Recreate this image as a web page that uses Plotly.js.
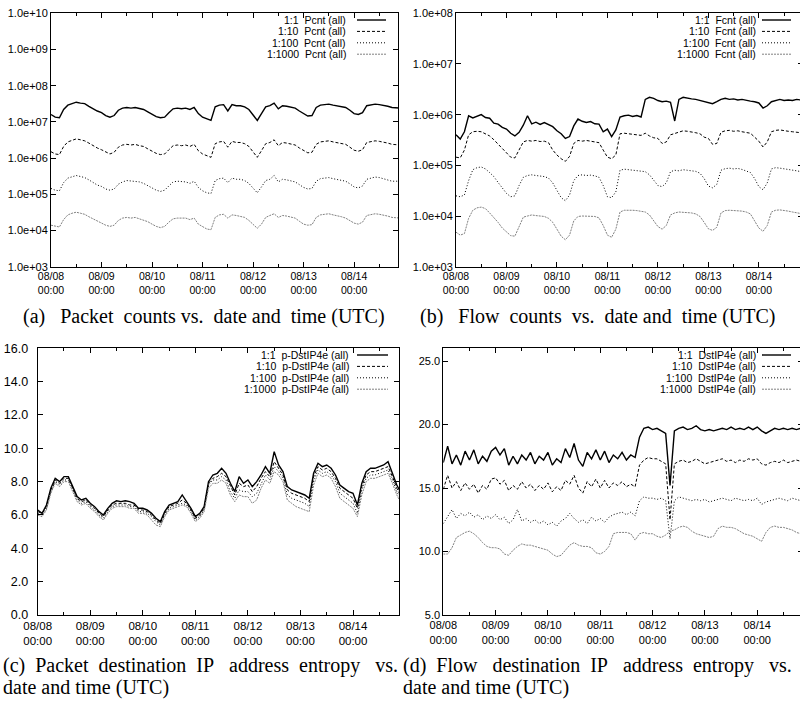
<!DOCTYPE html>
<html><head><meta charset="utf-8">
<script src="https://cdn.plot.ly/plotly-3.0.1.min.js"></script>
<style>html,body{margin:0;padding:0;overflow:hidden;background:#fff}#chart{width:803px;height:704px}</style>
</head><body><div id="chart"></div>
<script>
// ---------- time grid: 2-hour samples starting 08/08 00:00 UTC ----------
const START_MS = Date.UTC(2008, 7, 8, 0, 0);
const STEP_HOURS = 2;
const N_SAMPLES = 84;
const times = [];
for (let i = 0; i < N_SAMPLES; i++) times.push(START_MS + i * STEP_HOURS * 3600000);

const dayTickVals = ['2008-08-08','2008-08-09','2008-08-10','2008-08-11','2008-08-12','2008-08-13','2008-08-14'];
const dayTickText = ['08/08<br>00:00','08/09<br>00:00','08/10<br>00:00','08/11<br>00:00','08/12<br>00:00','08/13<br>00:00','08/14<br>00:00'];
const xRange = ['2008-08-08 00:00', '2008-08-14 21:00'];

const logTickValsA = [1e3,1e4,1e5,1e6,1e7,1e8,1e9,1e10];
const logTickTextA = ['1.0e+03','1.0e+04','1.0e+05','1.0e+06','1.0e+07','1.0e+08','1.0e+09','1.0e+10'];
const logTickValsB = [1e3,1e4,1e5,1e6,1e7,1e8];
const logTickTextB = ['1.0e+03','1.0e+04','1.0e+05','1.0e+06','1.0e+07','1.0e+08'];
const linTickValsC = [0,2,4,6,8,10,12,14,16];
const linTickTextC = ['0.0','2.0','4.0','6.0','8.0','10.0','12.0','14.0','16.0'];
const linTickValsD = [5,10,15,20,25];
const linTickTextD = ['5.0','10.0','15.0','20.0','25.0'];

// ---------- (a) packet counts ----------
const pcnt_1 = [
 1.6e7,1.35e7,1.3e7,2.2e7,2.9e7,3.2e7,3.5e7,3.3e7,3.2e7,2.7e7,2.3e7,2.0e7,
 1.8e7,1.5e7,1.35e7,1.5e7,2.1e7,2.4e7,2.5e7,2.4e7,2.5e7,2.3e7,2.2e7,1.9e7,
 1.6e7,1.4e7,1.3e7,1.35e7,1.8e7,2.3e7,2.4e7,2.3e7,2.4e7,2.2e7,2.5e7,1.7e7,
 1.35e7,1.2e7,1.1e7,2.6e7,2.9e7,3.0e7,2.0e7,3.0e7,2.8e7,2.8e7,2.6e7,2.2e7,
 1.6e7,1.1e7,1.7e7,2.6e7,2.8e7,3.3e7,2.3e7,2.8e7,2.7e7,2.6e7,2.4e7,2.0e7,
 1.7e7,1.45e7,1.5e7,2.5e7,2.9e7,3.0e7,3.1e7,2.9e7,2.8e7,2.6e7,2.5e7,2.1e7,
 1.7e7,1.6e7,1.8e7,2.8e7,3.0e7,3.1e7,3.0e7,2.9e7,2.7e7,2.5e7,2.4e7,2.4e7];
const pcnt_10 = [
 1.5e6,1.3e6,1.25e6,2.1e6,2.8e6,3.1e6,3.4e6,3.2e6,3.0e6,2.6e6,2.2e6,1.9e6,
 1.7e6,1.45e6,1.3e6,1.45e6,2.0e6,2.3e6,2.4e6,2.3e6,2.4e6,2.2e6,2.1e6,1.8e6,
 1.55e6,1.35e6,1.25e6,1.3e6,1.7e6,2.2e6,2.3e6,2.2e6,2.3e6,2.1e6,2.4e6,1.6e6,
 1.3e6,1.15e6,1.05e6,2.5e6,2.8e6,2.9e6,2.0e6,2.9e6,2.7e6,2.7e6,2.5e6,2.1e6,
 1.5e6,1.05e6,1.6e6,2.5e6,2.7e6,3.2e6,2.2e6,2.7e6,2.6e6,2.5e6,2.3e6,1.9e6,
 1.6e6,1.4e6,1.45e6,2.4e6,2.8e6,2.9e6,3.0e6,2.8e6,2.7e6,2.5e6,2.4e6,2.0e6,
 1.65e6,1.55e6,1.7e6,2.7e6,2.9e6,3.0e6,2.9e6,2.8e6,2.6e6,2.4e6,2.3e6,2.3e6];
const pcnt_100 = [
 1.45e5,1.3e5,1.25e5,2.1e5,2.8e5,3.0e5,3.3e5,3.1e5,2.9e5,2.5e5,2.1e5,1.8e5,
 1.65e5,1.4e5,1.3e5,1.4e5,1.9e5,2.2e5,2.4e5,2.3e5,2.3e5,2.2e5,2.0e5,1.75e5,
 1.5e5,1.3e5,1.2e5,1.3e5,1.7e5,2.2e5,2.3e5,2.2e5,2.2e5,2.0e5,2.3e5,1.55e5,
 1.25e5,1.1e5,1.05e5,2.4e5,2.7e5,2.8e5,2.1e5,2.8e5,2.6e5,2.6e5,2.4e5,2.0e5,
 1.45e5,1.1e5,1.6e5,2.4e5,2.6e5,3.3e5,2.2e5,2.6e5,2.5e5,2.4e5,2.2e5,1.85e5,
 1.55e5,1.4e5,1.45e5,2.3e5,2.7e5,2.8e5,2.9e5,2.7e5,2.6e5,2.4e5,2.3e5,1.95e5,
 1.6e5,1.5e5,1.7e5,2.6e5,2.8e5,3.0e5,2.9e5,2.7e5,2.5e5,2.3e5,2.3e5,2.3e5];
const pcnt_1000 = [
 1.4e4,1.3e4,1.25e4,2.0e4,2.7e4,3.0e4,3.2e4,3.0e4,2.8e4,2.4e4,2.1e4,1.8e4,
 1.6e4,1.4e4,1.3e4,1.4e4,1.9e4,2.2e4,2.3e4,2.2e4,2.3e4,2.1e4,2.0e4,1.75e4,
 1.5e4,1.3e4,1.2e4,1.3e4,1.7e4,2.1e4,2.2e4,2.2e4,2.2e4,2.0e4,2.2e4,1.5e4,
 1.25e4,1.1e4,1.05e4,2.3e4,2.7e4,2.8e4,2.2e4,2.7e4,2.6e4,2.5e4,2.3e4,1.9e4,
 1.45e4,1.15e4,1.5e4,2.3e4,2.6e4,2.9e4,2.3e4,2.6e4,2.5e4,2.4e4,2.2e4,1.8e4,
 1.5e4,1.4e4,1.45e4,2.3e4,2.7e4,2.8e4,2.9e4,2.7e4,2.6e4,2.4e4,2.2e4,1.9e4,
 1.6e4,1.5e4,1.7e4,2.6e4,2.8e4,2.9e4,2.8e4,2.7e4,2.5e4,2.3e4,2.2e4,2.2e4];

// ---------- (b) flow counts ----------
const fcnt_1 = [
 4.0e5,3.3e5,4.6e5,9.5e5,8.6e5,9.2e5,1.0e6,8.8e5,8.5e5,6.8e5,6.5e5,5.6e5,
 5.2e5,4.3e5,3.8e5,4.5e5,6.2e5,9.5e5,6.6e5,7.1e5,6.4e5,7.0e5,6.3e5,5.8e5,
 4.8e5,4.2e5,3.4e5,3.7e5,6.0e5,8.2e5,7.4e5,7.0e5,7.3e5,6.6e5,6.5e5,4.6e5,
 5.2e5,3.7e5,5.0e5,9.0e5,9.5e5,9.8e5,9.2e5,9.6e5,9.0e5,2.0e6,2.2e6,2.1e6,
 1.9e6,1.8e6,1.85e6,1.75e6,7.5e5,2.0e6,2.2e6,2.1e6,2.05e6,2.0e6,1.9e6,1.85e6,
 1.75e6,1.65e6,1.8e6,2.0e6,2.1e6,2.0e6,2.05e6,1.95e6,2.0e6,1.9e6,1.85e6,1.8e6,
 1.7e6,1.35e6,1.5e6,1.8e6,1.9e6,2.0e6,1.9e6,1.95e6,1.9e6,2.0e6,1.95e6,1.95e6];
const fcnt_10 = [
 1.45e5,1.4e5,2.0e5,4.0e5,4.6e5,4.7e5,4.6e5,4.2e5,3.8e5,3.2e5,2.6e5,2.1e5,
 1.7e5,1.45e5,1.4e5,2.0e5,2.9e5,3.1e5,3.0e5,3.1e5,2.95e5,3.0e5,2.8e5,2.0e5,
 1.6e5,1.35e5,1.2e5,1.5e5,2.7e5,3.1e5,3.0e5,3.1e5,3.0e5,2.95e5,2.8e5,2.0e5,
 1.45e5,1.35e5,1.6e5,4.2e5,4.3e5,4.2e5,4.1e5,4.0e5,3.9e5,4.3e5,3.8e5,3.5e5,
 3.4e5,2.7e5,2.9e5,4.0e5,4.3e5,4.6e5,4.8e5,4.7e5,4.6e5,4.4e5,4.2e5,3.6e5,
 3.4e5,2.6e5,2.7e5,4.5e5,4.8e5,4.9e5,4.7e5,4.8e5,4.6e5,4.5e5,4.3e5,3.6e5,
 3.0e5,2.3e5,2.9e5,4.6e5,4.9e5,5.0e5,4.8e5,4.7e5,4.6e5,4.5e5,4.3e5,4.3e5];
const fcnt_100 = [
 2.5e4,2.4e4,2.6e4,5.0e4,8.2e4,9.0e4,9.3e4,8.5e4,7.2e4,6.0e4,4.6e4,3.5e4,
 2.8e4,2.4e4,2.5e4,4.0e4,5.8e4,6.3e4,6.5e4,6.3e4,6.2e4,6.0e4,5.6e4,4.5e4,
 3.2e4,2.3e4,2.0e4,2.6e4,5.0e4,6.3e4,6.5e4,6.3e4,6.4e4,6.2e4,5.8e4,4.0e4,
 2.4e4,2.3e4,3.0e4,8.0e4,8.4e4,8.2e4,8.0e4,7.8e4,7.6e4,7.5e4,6.5e4,5.2e4,
 4.0e4,3.8e4,4.5e4,7.5e4,8.0e4,7.8e4,8.2e4,8.0e4,7.9e4,7.6e4,7.0e4,5.5e4,
 3.9e4,3.6e4,4.2e4,8.0e4,8.6e4,8.8e4,8.5e4,8.7e4,8.3e4,7.8e4,7.2e4,5.5e4,
 3.8e4,3.3e4,4.5e4,8.5e4,9.0e4,8.8e4,8.6e4,8.4e4,8.0e4,7.8e4,7.5e4,7.3e4];
const fcnt_1000 = [
 4.8e3,4.2e3,4.5e3,9.0e3,1.3e4,1.45e4,1.5e4,1.4e4,1.15e4,9.5e3,7.5e3,5.8e3,
 4.8e3,4.1e3,4.0e3,6.0e3,9.5e3,1.0e4,1.05e4,1.02e4,1.0e4,9.8e3,9.0e3,7.5e3,
 5.5e3,4.0e3,3.4e3,4.2e3,8.0e3,9.8e3,1.0e4,1.0e4,9.9e3,9.8e3,9.2e3,6.5e3,
 4.2e3,3.8e3,5.5e3,1.2e4,1.3e4,1.32e4,1.3e4,1.28e4,1.25e4,1.2e4,1.05e4,8.0e3,
 6.2e3,5.5e3,6.5e3,1.05e4,1.15e4,1.2e4,1.18e4,1.2e4,1.15e4,1.1e4,9.8e3,7.5e3,
 5.6e3,5.2e3,6.0e3,1.15e4,1.28e4,1.3e4,1.28e4,1.3e4,1.25e4,1.2e4,1.1e4,8.0e3,
 5.8e3,5.0e3,6.5e3,1.2e4,1.3e4,1.32e4,1.3e4,1.25e4,1.2e4,1.15e4,1.1e4,1.08e4];

// ---------- (c) packet destination IP entropy ----------
const pent_1 = [
 6.3,6.1,6.6,7.6,8.2,8.0,8.3,8.3,7.7,7.1,6.9,7.0,
 6.7,6.5,6.2,6.0,6.4,6.7,6.85,6.8,6.85,6.8,6.7,6.4,
 6.4,6.3,6.1,5.8,5.6,6.2,6.6,6.7,6.8,7.2,6.8,6.4,
 5.9,6.1,6.5,8.0,8.4,8.5,8.8,8.5,7.9,7.4,8.3,7.9,
 8.1,7.7,8.0,8.4,8.9,8.5,9.8,9.0,8.6,7.7,7.5,7.4,
 7.3,7.2,7.0,8.5,9.1,8.9,9.0,8.8,8.4,7.8,7.6,7.4,
 7.3,6.6,7.9,8.6,8.8,8.8,8.9,9.0,9.2,8.5,7.8,7.3];
const pent_10 = [
 6.2,6.1,6.5,7.5,8.1,7.9,8.2,8.2,7.6,7.0,6.8,6.9,
 6.6,6.4,6.1,5.9,6.3,6.6,6.7,6.7,6.7,6.6,6.6,6.3,
 6.3,6.2,6.0,5.7,5.5,6.1,6.5,6.6,6.7,6.9,6.7,6.3,
 5.8,6.0,6.4,7.9,8.2,8.3,8.5,8.3,7.7,7.2,7.9,7.7,
 7.8,7.4,7.7,8.2,8.6,8.3,9.2,8.8,8.4,7.5,7.3,7.2,
 7.1,7.0,6.8,8.3,8.9,8.7,8.8,8.6,8.2,7.6,7.4,7.2,
 7.0,6.4,7.7,8.4,8.6,8.6,8.7,8.8,8.9,8.3,7.6,7.1];
const pent_100 = [
 6.1,6.0,6.4,7.4,8.0,7.8,8.1,8.1,7.5,6.9,6.7,6.8,
 6.5,6.3,6.0,5.8,6.2,6.5,6.6,6.6,6.6,6.5,6.5,6.2,
 6.2,6.1,5.9,5.6,5.4,6.0,6.4,6.5,6.6,6.7,6.6,6.2,
 5.7,5.9,6.3,7.8,8.1,8.1,8.3,8.1,7.4,7.0,7.5,7.4,
 7.4,7.1,7.3,7.9,8.4,8.1,8.9,8.6,8.2,7.2,7.0,6.9,
 6.8,6.7,6.5,8.1,8.7,8.5,8.6,8.4,8.0,7.3,7.1,6.9,
 6.7,6.1,7.5,8.2,8.4,8.4,8.5,8.6,8.7,8.1,7.4,6.9];
const pent_1000 = [
 6.0,5.9,6.3,7.3,7.9,7.7,8.0,8.0,7.4,6.8,6.6,6.7,
 6.4,6.2,5.9,5.7,6.1,6.4,6.5,6.5,6.5,6.4,6.4,6.1,
 6.1,6.0,5.7,5.4,5.3,5.9,6.3,6.4,6.5,6.6,6.5,6.1,
 5.6,5.8,6.2,7.6,7.9,7.9,8.1,7.9,7.2,6.8,7.2,7.1,
 7.1,6.7,6.9,7.6,8.1,7.9,8.6,8.4,8.0,6.9,6.7,6.5,
 6.4,6.3,6.2,7.8,8.5,8.3,8.4,8.2,7.7,7.0,6.8,6.6,
 6.4,5.9,7.2,8.0,8.2,8.2,8.3,8.4,8.5,7.9,7.2,6.7];

// ---------- (d) flow destination IP entropy ----------
const fent_1 = [
 17.0,18.3,16.9,17.6,16.8,17.9,17.2,18.0,16.9,17.5,17.1,17.9,
 18.2,17.6,18.1,16.8,17.5,16.9,17.6,17.2,17.8,16.9,17.5,17.2,
 17.8,16.8,17.3,17.0,18.1,17.4,18.5,17.2,16.7,17.8,17.3,18.0,
 17.2,17.9,17.0,17.6,17.3,17.8,17.2,17.6,17.4,19.0,19.7,19.8,
 19.6,19.7,19.5,19.3,15.2,19.5,19.7,19.8,19.6,19.7,19.9,19.6,
 19.5,19.6,19.5,19.6,19.7,19.6,19.8,19.6,19.7,19.6,19.8,19.6,
 19.8,19.5,19.3,19.5,19.7,19.6,19.7,19.6,19.7,19.6,19.7,19.7];
const fent_10 = [
 14.9,16.0,15.0,15.5,14.8,15.4,14.9,15.3,14.6,15.2,14.9,15.7,
 15.8,15.3,15.6,14.8,15.2,14.9,15.5,15.0,15.3,14.8,15.2,14.9,
 15.4,14.7,15.1,14.8,15.6,15.3,16.0,15.0,14.6,15.5,15.1,15.7,
 15.0,15.6,15.0,15.4,15.2,15.5,15.1,15.3,15.1,16.8,17.2,17.4,
 17.3,17.3,17.1,16.9,12.5,16.9,17.1,17.2,17.0,17.1,17.3,17.1,
 16.9,17.0,17.1,17.2,17.3,17.1,17.2,17.0,17.2,17.1,17.3,17.2,
 17.3,16.9,16.8,17.0,17.1,17.0,17.2,17.0,17.1,17.2,17.1,17.1];
const fent_100 = [
 12.2,12.7,13.3,12.6,13.0,12.8,13.1,12.7,12.9,12.5,12.8,12.6,
 12.9,12.5,12.7,12.2,12.5,13.3,12.4,12.6,12.3,12.5,12.2,12.4,
 12.1,12.3,12.0,12.4,12.6,13.0,12.6,12.3,12.5,12.2,12.7,12.4,
 12.6,12.3,12.7,12.9,13.0,13.1,12.9,13.1,12.8,14.0,14.3,14.2,
 14.2,14.1,14.2,14.0,11.0,14.0,14.3,14.2,14.1,14.0,14.1,14.0,
 14.1,13.9,14.0,14.1,14.2,14.1,14.0,14.2,14.1,14.0,14.1,14.0,
 14.2,13.7,13.9,14.0,14.1,14.2,14.1,14.0,14.2,14.1,14.0,14.0];
const fent_1000 = [
 9.8,9.8,10.3,11.1,11.3,11.5,11.6,11.4,11.1,10.7,10.4,10.3,
 10.3,10.2,9.8,9.7,10.1,10.4,10.6,10.5,10.5,10.4,10.3,10.2,
 10.1,9.8,9.6,9.7,10.1,10.5,10.7,10.5,10.4,10.4,10.3,9.9,
 9.8,10.0,10.4,11.4,11.5,11.5,11.5,11.4,10.9,11.4,11.5,11.4,
 11.4,11.2,11.1,11.3,11.6,11.7,11.9,12.0,11.9,11.6,11.4,11.3,
 11.2,11.1,11.2,11.8,12.0,11.9,11.9,11.8,11.6,11.4,11.3,11.2,
 11.0,10.8,11.5,11.9,12.0,11.9,11.9,11.8,11.7,11.5,11.4,11.3];

// ---------- labels ----------
const legendA = ['1:1\u00a0 Pcnt (all)','1:10\u00a0 Pcnt (all)','1:100\u00a0 Pcnt (all)','1:1000\u00a0 Pcnt (all)'];
const legendB = ['1:1\u00a0 Fcnt (all)','1:10\u00a0 Fcnt (all)','1:100\u00a0 Fcnt (all)','1:1000\u00a0 Fcnt (all)'];
const legendC = ['1:1\u00a0 p-DstIP4e (all)','1:10\u00a0 p-DstIP4e (all)','1:100\u00a0 p-DstIP4e (all)','1:1000\u00a0 p-DstIP4e (all)'];
const legendD = ['1:1\u00a0 DstIP4e (all)','1:10\u00a0 DstIP4e (all)','1:100\u00a0 DstIP4e (all)','1:1000\u00a0 DstIP4e (all)'];
const captions = [
  '(a)\u00a0\u00a0 Packet\u00a0 counts vs.\u00a0 date and\u00a0 time (UTC)',
  '(b)\u00a0\u00a0 Flow\u00a0 counts\u00a0 vs.\u00a0 date and\u00a0 time (UTC)',
  '(c)\u00a0 Packet\u00a0 destination\u00a0 IP\u00a0\u00a0 address\u00a0 entropy\u00a0\u00a0 vs.',
  'date and time (UTC)',
  '(d)\u00a0 Flow\u00a0\u00a0 destination\u00a0 IP\u00a0\u00a0 address\u00a0 entropy\u00a0\u00a0 vs.',
  'date and time (UTC)'
];

// ---------- styling / geometry ----------
const W = 803, H = 704;
const px = x => x / W, py = y => 1 - y / H;
const styles = [
  {color:'#000', width:1.4},
  {color:'#000', width:1, dash:'3px,2px'},
  {color:'#000', width:1, dash:'1px,2px'},
  {color:'#808080', width:1, dash:'2px,1px'}
];
const topRows = [20, 31.4, 42.8, 54.2];
const botRows = [355, 366.4, 377.8, 389.2];
const panels = [
  {xa:'x', ya:'y',  series:[pcnt_1,pcnt_10,pcnt_100,pcnt_1000], legend:legendA, textRight:347, sx:[357,386], rows:topRows},
  {xa:'x2',ya:'y2', series:[fcnt_1,fcnt_10,fcnt_100,fcnt_1000], legend:legendB, textRight:757, sx:[762,791], rows:topRows},
  {xa:'x3',ya:'y3', series:[pent_1,pent_10,pent_100,pent_1000], legend:legendC, textRight:350, sx:[357,388], rows:botRows},
  {xa:'x4',ya:'y4', series:[fent_1,fent_10,fent_100,fent_1000], legend:legendD, textRight:757, sx:[762,791], rows:botRows}
];

const traces = [], annotations = [], shapes = [];
panels.forEach(p => {
  p.series.forEach((s, k) => {
    traces.push({x: times, y: s, xaxis: p.xa, yaxis: p.ya, type:'scatter', mode:'lines',
                 line: styles[k], hoverinfo:'skip', showlegend:false});
    annotations.push({xref:'paper', yref:'paper', x: px(p.textRight), y: py(p.rows[k]),
      xanchor:'right', yanchor:'middle', showarrow:false, text: p.legend[k], borderpad:0,
      font:{family:'Liberation Sans, Arial, sans-serif', size:10.5, color:'#000'}});
    shapes.push({type:'line', xref:'paper', yref:'paper', x0: px(p.sx[0]), x1: px(p.sx[1]),
      y0: py(p.rows[k]), y1: py(p.rows[k]), line: styles[k]});
  });
});

const capFont = {family:'Liberation Serif, Times New Roman, serif', size:20, color:'#000'};
const capPos = [[204,317,'center'],[598,317,'center'],[2,665,'left'],[2,687,'left'],[402,665,'left'],[402,687,'left']];
captions.forEach((t, i) => {
  annotations.push({xref:'paper', yref:'paper', x: px(capPos[i][0]), y: py(capPos[i][1]),
    xanchor: capPos[i][2], yanchor:'middle', showarrow:false, text: t, font: capFont, borderpad:0});
});

function tickFont(size) { return {family:'Liberation Sans, Arial, sans-serif', size:size, color:'#000'}; }
function xAxis(x0, x1, anchor, fs) {
  return {domain:[px(x0), px(x1)], anchor: anchor, type:'date', range: xRange,
    tickmode:'array', tickvals: dayTickVals, ticktext: dayTickText,
    ticks:'inside', ticklen:5, tickcolor:'#000', showline:true, linecolor:'#000', linewidth:1,
    mirror:'ticks', showgrid:false, zeroline:false, tickfont: tickFont(fs), fixedrange:true,
    minor:{tickmode:'linear', tick0:'2008-08-08 12:00', dtick: 86400000, ticks:'inside', ticklen:3, tickcolor:'#000', showgrid:false}};
}
function yAxis(y0, y1, anchor, fs, extra) {
  return Object.assign({domain:[py(y1), py(y0)], anchor: anchor,
    tickmode:'array', ticks:'inside', ticklen:5, tickcolor:'#000', showline:true, linecolor:'#000', linewidth:1,
    mirror:'ticks', showgrid:false, zeroline:false, tickfont: tickFont(fs), fixedrange:true}, extra);
}

const layout = {
  width: W, height: H, margin:{l:0, r:0, t:0, b:0}, paper_bgcolor:'#fff', plot_bgcolor:'#fff',
  showlegend:false,
  xaxis:  xAxis(51, 398.3, 'y', 10.5),
  xaxis2: xAxis(456, 803, 'y2', 10.5),
  xaxis3: xAxis(37.7, 399, 'y3', 11.5),
  xaxis4: xAxis(443.3, 803, 'y4', 11),
  yaxis:  yAxis(13.3, 266.7, 'x', 11, {type:'log', range:[3,10], tickvals: logTickValsA, ticktext: logTickTextA}),
  yaxis2: yAxis(13.3, 266.7, 'x2', 11, {type:'log', range:[3,8], tickvals: logTickValsB, ticktext: logTickTextB}),
  yaxis3: yAxis(348.3, 615, 'x3', 12.5, {range:[0,16], tickvals: linTickValsC, ticktext: linTickTextC, ticklabelstandoff:6}),
  yaxis4: yAxis(348.3, 615, 'x4', 11, {range:[5,26], tickvals: linTickValsD, ticktext: linTickTextD}),
  annotations: annotations, shapes: shapes
};

Plotly.newPlot('chart', traces, layout, {staticPlot:true, displayModeBar:false});
</script></body></html>
